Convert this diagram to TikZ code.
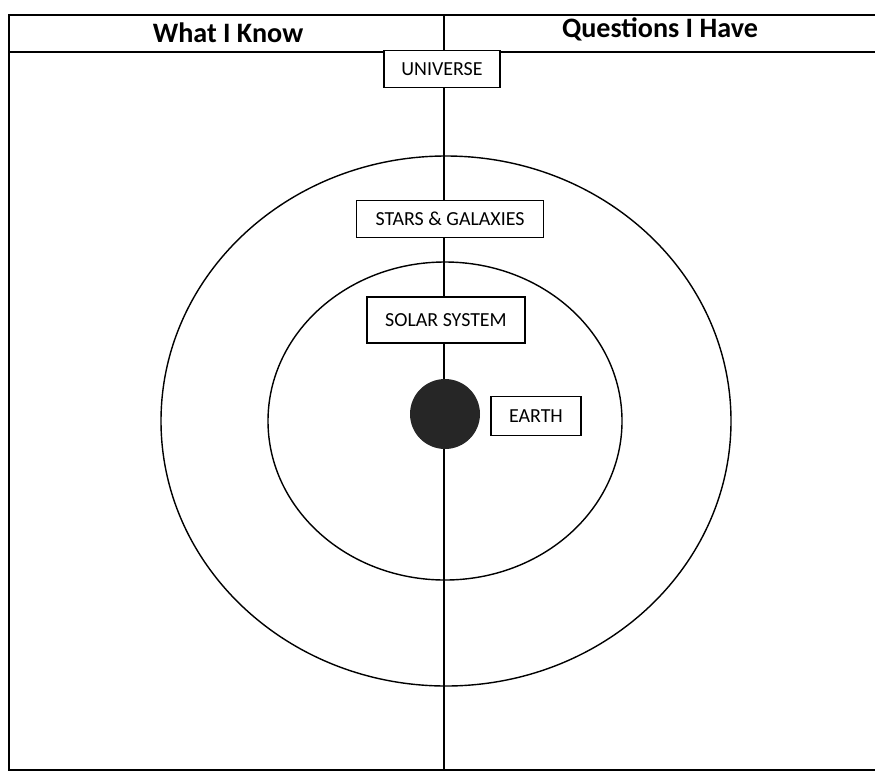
\documentclass[tikz,border=0pt]{standalone}
\usepackage{fontspec}
\setmainfont{Carlito}
\usetikzlibrary{positioning}

\tikzset{
  boxlabel/.style={draw, fill=white, line width=1.2pt, font=\fontsize{17}{20}\selectfont,
    minimum height=1.1cm, inner xsep=8pt},
  headlabel/.style={font=\bfseries\fontsize{24}{28}\selectfont},
  rule/.style={line width=1.2pt}
}

\begin{document}
\begin{tikzpicture}[x=0.03cm, y=-0.03cm]
    \useasboundingbox (0,0) rectangle (875,777);

    % Khung bảng
    \draw[rule] (875,15) -- (9,15) -- (9,770) -- (875,770);
    \draw[rule] (9,52) -- (875,52);

    % Tiêu đề hai cột
    \node[headlabel] (know) at (228,33) {What I Know};
    \node[headlabel] (questions) at (660,29) {Questions I Have};

    % Hai vòng tròn
    \draw[rule] (446,421) ellipse (285 and 265);
    \draw[rule] (445,421) ellipse (177 and 159);

    % Các hộp chữ
    \coordinate (top) at (444,15);
    \coordinate (bottom) at (444,770);
    \node[boxlabel, minimum width=3.48cm] (universe) at (442,69) {UNIVERSE};
    \node[boxlabel, minimum width=5.6cm] (stars) at (450,219) {STARS \& GALAXIES};
    \node[boxlabel, minimum width=4.74cm, minimum height=1.38cm] (solar) at (446,320) {SOLAR SYSTEM};
    \node[circle, fill=black!85, minimum size=2.1cm] (earth) at (445,414) {};
    \node[boxlabel, minimum width=2.7cm, minimum height=1.17cm] (earthlabel) at (536,416) {EARTH};

    % Đường chia giữa
    \draw[rule] (top) -- (top |- universe.north);
    \draw[rule] (top |- universe.south) -- (top |- stars.north);
    \draw[rule] (top |- stars.south) -- (top |- solar.north);
    \draw[rule] (top |- solar.south) -- (top |- earth.north);
    \draw[rule] (top |- earth.south) -- (bottom);
\end{tikzpicture}
\end{document}
